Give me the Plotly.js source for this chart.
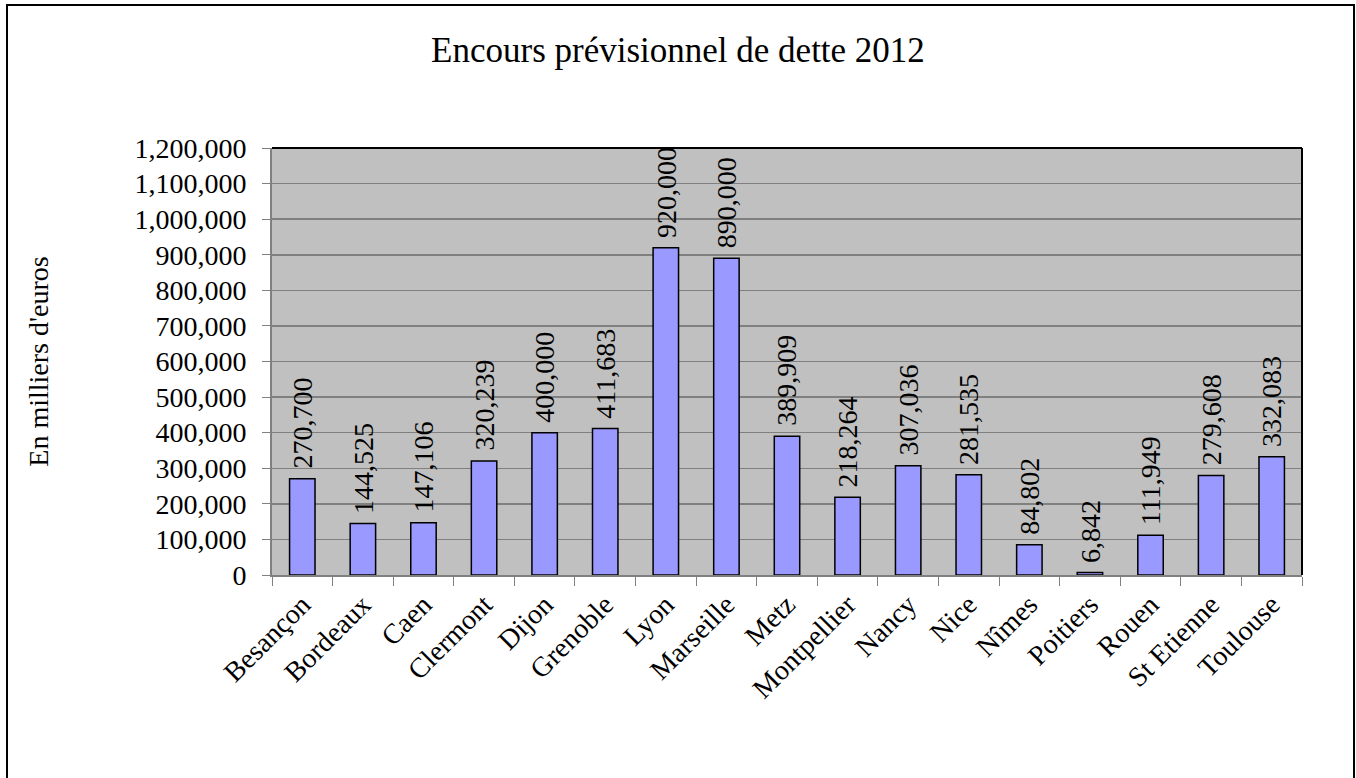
<!DOCTYPE html>
<html>
<head>
<meta charset="utf-8">
<script src="https://cdn.plot.ly/plotly-3.0.1.min.js"></script>
<style>
  html, body { margin: 0; padding: 0; background: #fff; overflow: hidden; }
  #chart { width: 1356px; height: 778px; position: absolute; left: 0; top: 0; }
  #frame { position: absolute; left: 6px; top: 4px; width: 1349px; height: 800px;
           border: 2px solid #000; box-sizing: border-box; pointer-events: none; }
</style>
</head>
<body>
<div id="chart"></div>
<div id="frame"></div>
<script>
const cities = ["Besançon", "Bordeaux", "Caen", "Clermont", "Dijon", "Grenoble", "Lyon",
  "Marseille", "Metz", "Montpellier", "Nancy", "Nice", "Nîmes", "Poitiers", "Rouen",
  "St Etienne", "Toulouse"];
const debt = [270700, 144525, 147106, 320239, 400000, 411683, 920000, 890000, 389909,
  218264, 307036, 281535, 84802, 6842, 111949, 279608, 332083];
const yTicks = [0, 100000, 200000, 300000, 400000, 500000, 600000, 700000, 800000,
  900000, 1000000, 1100000, 1200000];

const serif = "Liberation Serif";
const fs = 28;
const labelFont = { family: serif, size: fs, color: "#000" };

const trace = {
  type: "bar",
  x: cities,
  y: debt,
  marker: { color: "#9999ff", line: { color: "#000", width: 1.5 } },
  cliponaxis: false,
  hoverinfo: "x+y"
};

const fmt = v => v.toLocaleString("en-US");
const valueLabels = cities.map((c, i) => ({
  x: c, y: debt[i], xref: "x", yref: "y",
  text: fmt(debt[i]),
  showarrow: false,
  textangle: -90,
  xanchor: "center",
  yanchor: "bottom",
  yshift: 8,
  font: labelFont
}));

const layout = {
  width: 1356,
  height: 778,
  font: { family: serif, color: "#000" },
  paper_bgcolor: "#fff",
  plot_bgcolor: "#c0c0c0",
  margin: { l: 272, r: 54, t: 148, b: 203 },
  bargap: 0.58,
  showlegend: false,
  title: {
    text: "Encours prévisionnel de dette 2012",
    font: { family: serif, size: 35, color: "#000" },
    x: 0.5, xanchor: "center",
    y: 1 - 50 / 778, yanchor: "middle", yref: "container"
  },
  xaxis: {
    type: "category",
    tickangle: -45,
    tickfont: { family: serif, size: fs, color: "#000" },
    ticks: "outside",
    tickson: "boundaries",
    ticklen: 9,
    tickcolor: "#808080",
    showline: true,
    linecolor: "#808080",
    linewidth: 2,
    showgrid: false,
    zeroline: false
  },
  yaxis: {
    range: [0, 1200000],
    tickvals: yTicks,
    tickformat: ",",
    tickfont: { family: serif, size: fs, color: "#000" },
    ticks: "outside",
    ticklen: 8,
    ticklabelstandoff: 10,
    tickcolor: "#808080",
    showline: true,
    linecolor: "#808080",
    linewidth: 2,
    showgrid: true,
    gridcolor: "#808080",
    gridwidth: 1.5,
    zeroline: false,
    title: {
      text: "En milliers d'euros",
      font: { family: serif, size: fs, color: "#000" },
      standoff: 78
    }
  },
  annotations: valueLabels,
  shapes: [
    { type: "line", xref: "paper", yref: "paper", x0: 0, x1: 1, y0: 1, y1: 1,
      line: { color: "#000", width: 2 } },
    { type: "line", xref: "paper", yref: "paper", x0: 1, x1: 1, y0: 0, y1: 1,
      line: { color: "#000", width: 2 } }
  ]
};

Plotly.newPlot("chart", [trace], layout, { displayModeBar: false, staticPlot: true });
</script>
</body>
</html>
